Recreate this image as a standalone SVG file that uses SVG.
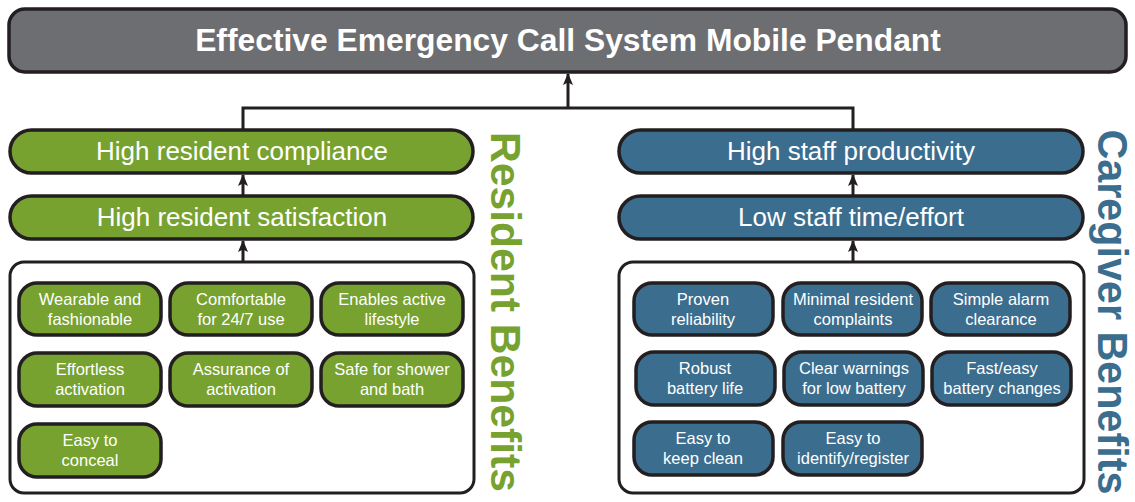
<svg xmlns="http://www.w3.org/2000/svg" width="1135" height="502" viewBox="0 0 1135 502">
<style>
.t{font-family:"Liberation Sans",Arial,sans-serif;fill:#fff}
.title{font-size:31.8px;font-weight:bold}
.mid{font-size:26px}
.pill{font-size:16.5px}
.g{fill:#77a22f;stroke:#231f20;stroke-width:3.5}
.b{fill:#3b6d8e;stroke:#231f20;stroke-width:3.5}
.cont{fill:#fff;stroke:#231f20;stroke-width:3}
.side{font-family:"Liberation Sans",Arial,sans-serif;font-size:42px;font-weight:bold}
.conn{fill:none;stroke:#231f20;stroke-width:3}
</style>
<defs>
<marker id="ah" markerUnits="userSpaceOnUse" markerWidth="12" markerHeight="10" refX="11" refY="5" orient="auto" viewBox="0 0 12 10">
<path d="M12,5 L0,0 L2.5,5 L0,10 Z" fill="#231f20"/>
</marker>
</defs>
<g id="title">
<rect x="9" y="9" width="1117" height="63" rx="16" fill="#6d6e71" stroke="#231f20" stroke-width="3.5"/>
<text class="t title" x="568" y="51" text-anchor="middle">Effective Emergency Call System Mobile Pendant</text>
</g>
<g id="connectors">
<polyline class="conn" points="243,130 243,108 853,108 853,130"/>
<line class="conn" x1="568" y1="108" x2="568" y2="74" marker-end="url(#ah)"/>
<line class="conn" x1="243" y1="196" x2="243" y2="175" marker-end="url(#ah)"/>
<line class="conn" x1="243" y1="262" x2="243" y2="241" marker-end="url(#ah)"/>
<line class="conn" x1="853" y1="196" x2="853" y2="175" marker-end="url(#ah)"/>
<line class="conn" x1="853" y1="262" x2="853" y2="241" marker-end="url(#ah)"/>
</g>
<g id="compliance">
<rect class="g" x="10" y="130" width="463" height="43" rx="21.5"/>
<text class="t mid" x="242" y="160" text-anchor="middle">High resident compliance</text>
</g>
<g id="satisfaction">
<rect class="g" x="10" y="196" width="463" height="43" rx="21.5"/>
<text class="t mid" x="242" y="226" text-anchor="middle">High resident satisfaction</text>
</g>
<g id="productivity">
<rect class="b" x="619" y="130" width="464" height="43" rx="21.5"/>
<text class="t mid" x="851" y="160" text-anchor="middle">High staff productivity</text>
</g>
<g id="effort">
<rect class="b" x="619" y="196" width="464" height="43" rx="21.5"/>
<text class="t mid" x="851" y="226" text-anchor="middle">Low staff time/effort</text>
</g>
<g id="resident-container">
<rect class="cont" x="10" y="262" width="464" height="231" rx="14"/>
</g>
<g id="caregiver-container">
<rect class="cont" x="619" y="262" width="465" height="231" rx="14"/>
</g>
<g id="r1"><rect class="g" x="19" y="283" width="142" height="52" rx="18"/><text class="t pill" x="90" y="305" text-anchor="middle">Wearable and</text><text class="t pill" x="90" y="325" text-anchor="middle">fashionable</text></g>
<g id="r2"><rect class="g" x="170" y="283" width="142" height="52" rx="18"/><text class="t pill" x="241" y="305" text-anchor="middle">Comfortable</text><text class="t pill" x="241" y="325" text-anchor="middle">for 24/7 use</text></g>
<g id="r3"><rect class="g" x="321" y="283" width="142" height="52" rx="18"/><text class="t pill" x="392" y="305" text-anchor="middle">Enables active</text><text class="t pill" x="392" y="325" text-anchor="middle">lifestyle</text></g>
<g id="r4"><rect class="g" x="19" y="353" width="142" height="53" rx="18"/><text class="t pill" x="90" y="375" text-anchor="middle">Effortless</text><text class="t pill" x="90" y="395" text-anchor="middle">activation</text></g>
<g id="r5"><rect class="g" x="170" y="353" width="142" height="53" rx="18"/><text class="t pill" x="241" y="375" text-anchor="middle">Assurance of</text><text class="t pill" x="241" y="395" text-anchor="middle">activation</text></g>
<g id="r6"><rect class="g" x="321" y="353" width="142" height="53" rx="18"/><text class="t pill" x="392" y="375" text-anchor="middle">Safe for shower</text><text class="t pill" x="392" y="395" text-anchor="middle">and bath</text></g>
<g id="r7"><rect class="g" x="19" y="424" width="142" height="53" rx="18"/><text class="t pill" x="90" y="446" text-anchor="middle">Easy to</text><text class="t pill" x="90" y="466" text-anchor="middle">conceal</text></g>
<g id="c1"><rect class="b" x="634" y="283" width="139" height="52" rx="18"/><text class="t pill" x="703" y="305" text-anchor="middle">Proven</text><text class="t pill" x="703" y="325" text-anchor="middle">reliability</text></g>
<g id="c2"><rect class="b" x="783" y="283" width="139" height="52" rx="18"/><text class="t pill" x="853" y="305" text-anchor="middle">Minimal resident</text><text class="t pill" x="853" y="325" text-anchor="middle">complaints</text></g>
<g id="c3"><rect class="b" x="931" y="283" width="139" height="52" rx="18"/><text class="t pill" x="1001" y="305" text-anchor="middle">Simple alarm</text><text class="t pill" x="1001" y="325" text-anchor="middle">clearance</text></g>
<g id="c4"><rect class="b" x="636" y="352" width="139" height="53" rx="18"/><text class="t pill" x="705" y="374" text-anchor="middle">Robust</text><text class="t pill" x="705" y="394" text-anchor="middle">battery life</text></g>
<g id="c5"><rect class="b" x="784" y="352" width="139" height="53" rx="18"/><text class="t pill" x="854" y="374" text-anchor="middle">Clear warnings</text><text class="t pill" x="854" y="394" text-anchor="middle">for low battery</text></g>
<g id="c6"><rect class="b" x="932" y="352" width="139" height="53" rx="18"/><text class="t pill" x="1002" y="374" text-anchor="middle">Fast/easy</text><text class="t pill" x="1002" y="394" text-anchor="middle">battery changes</text></g>
<g id="c7"><rect class="b" x="634" y="422" width="139" height="53" rx="18"/><text class="t pill" x="703" y="444" text-anchor="middle">Easy to</text><text class="t pill" x="703" y="464" text-anchor="middle">keep clean</text></g>
<g id="c8"><rect class="b" x="783" y="422" width="139" height="53" rx="18"/><text class="t pill" x="853" y="444" text-anchor="middle">Easy to</text><text class="t pill" x="853" y="464" text-anchor="middle">identify/register</text></g>
<g id="resident-label">
<text class="side" transform="translate(491,312) rotate(90)" text-anchor="middle" fill="#77a22f" textLength="360" lengthAdjust="spacingAndGlyphs">Resident Benefits</text>
</g>
<g id="caregiver-label">
<text class="side" transform="translate(1098,312) rotate(90)" text-anchor="middle" fill="#3b6d8e" textLength="365" lengthAdjust="spacingAndGlyphs">Caregiver Benefits</text>
</g>
</svg>
